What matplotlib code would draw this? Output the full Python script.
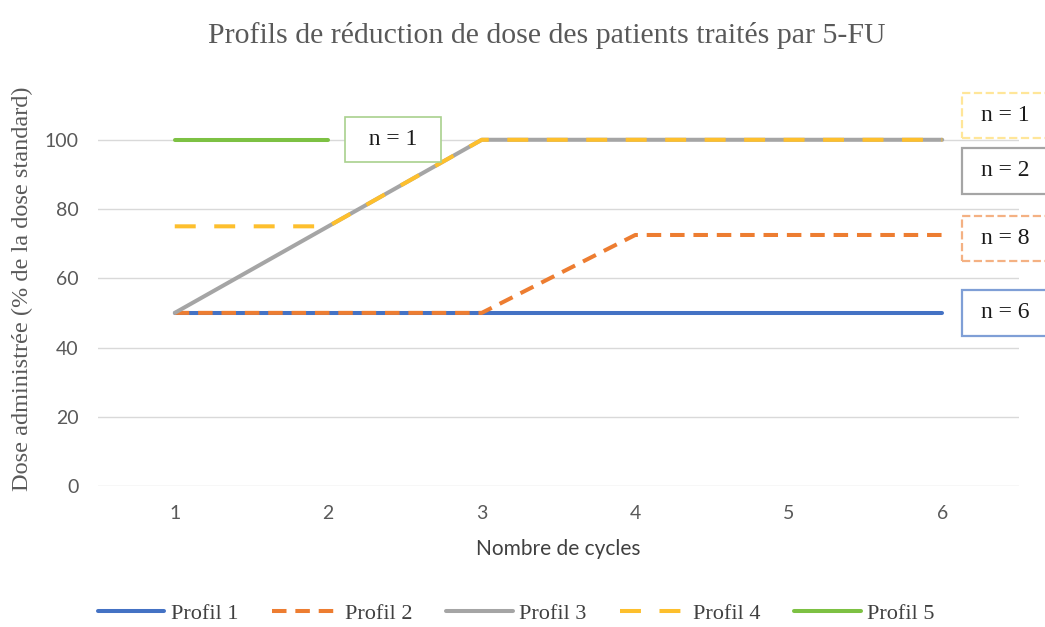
import matplotlib
matplotlib.use("Agg")
import matplotlib.pyplot as plt
from matplotlib.patches import Rectangle
import numpy as np

# data
cycles = [1, 2, 3, 4, 5, 6]
profil1 = [50, 50, 50, 50, 50, 50]
profil2 = [50, 50, 50, 72.5, 72.5, 72.5]
profil3 = [50, 75, 100, 100, 100, 100]
profil4 = [75, 75, 100, 100, 100, 100]
profil5 = [100, 100, np.nan, np.nan, np.nan, np.nan]
labels = ["Profil 1", "Profil 2", "Profil 3", "Profil 4", "Profil 5"]
effectifs = ["n = 6", "n = 8", "n = 2", "n = 1", "n = 1"]

SERIF = "Liberation Serif"
SANS = "Lato"

fig = plt.figure(figsize=(10.45, 6.27), dpi=100)
ax = fig.add_axes([0.0938, 0.2249, 0.8813, 0.635])

lw = 2.9
ax.plot(cycles, profil1, color="#4472C4", lw=lw, label=labels[0], solid_capstyle="round")
ax.plot(cycles, profil2, color="#ED7D31", lw=lw, label=labels[1], dashes=(3.6, 2.2))
ax.plot(cycles, profil3, color="#A5A5A5", lw=lw, label=labels[2], solid_capstyle="round")
ax.plot(cycles, profil4, color="#FDBF2D", lw=lw, label=labels[3], dashes=(5.2, 4.6))
ax.plot(cycles, profil5, color="#7DC143", lw=lw, label=labels[4], solid_capstyle="round")

ax.set_xlim(0.5, 6.5)
ax.set_ylim(0, 115)
ax.set_yticks([0, 20, 40, 60, 80, 100])
ax.set_xticks(cycles)
ax.grid(axis="y", color="#D9D9D9", lw=1)
ax.set_axisbelow(True)
for s in ax.spines.values():
    s.set_visible(False)
ax.tick_params(length=0, labelsize=14, labelcolor="#595959", pad=14)
for t in ax.get_xticklabels() + ax.get_yticklabels():
    t.set_family(SANS)

ax.set_title("Profils de réduction de dose des patients traités par 5-FU",
             family=SERIF, fontsize=21.5, color="#595959", pad=32, x=0.487)
ax.set_ylabel("Dose administrée (% de la dose standard)", family=SERIF,
              fontsize=17.5, color="#595959")
ax.yaxis.set_label_coords(-0.071, 0.495)
ax.set_xlabel("Nombre de cycles", family=SANS, fontsize=15, color="#404040", labelpad=12)

# boxes with patient counts
txt_kw = dict(family=SERIF, fontsize=17, color="#1a1a1a", va="center", clip_on=False)
ax.text(2.42, 100, "  " + effectifs[4] + "  ", ha="center",
        bbox=dict(boxstyle="square,pad=0.5", fc="white", ec="#A9D18E", lw=1.2), **txt_kw)
right = [(profil4[-1] + 7, effectifs[3], "#FFE699", "--"),
         (profil3[-1] - 9, effectifs[2], "#A5A5A5", "-"),
         (profil2[-1] - 1, effectifs[1], "#F4B183", "--"),
         (profil1[-1], effectifs[0], "#7F9FD6", "-")]
for y, txt, ec, ls in right:
    ax.add_patch(Rectangle((6.13, y - 6.6), 0.8, 13.2, fc="white", ec=ec, lw=1.6,
                           ls=ls, clip_on=False))
    ax.text(6.25, y, txt, ha="left", **txt_kw)

leg = fig.legend(loc="center", bbox_to_anchor=(0.494, 0.021), ncol=5, frameon=False,
                 prop={"family": SERIF, "size": 16}, handlelength=3.0,
                 handletextpad=0.3, columnspacing=1.5)
for t in leg.get_texts():
    t.set_color("#404040")

fig.savefig("out.png", dpi=100)
